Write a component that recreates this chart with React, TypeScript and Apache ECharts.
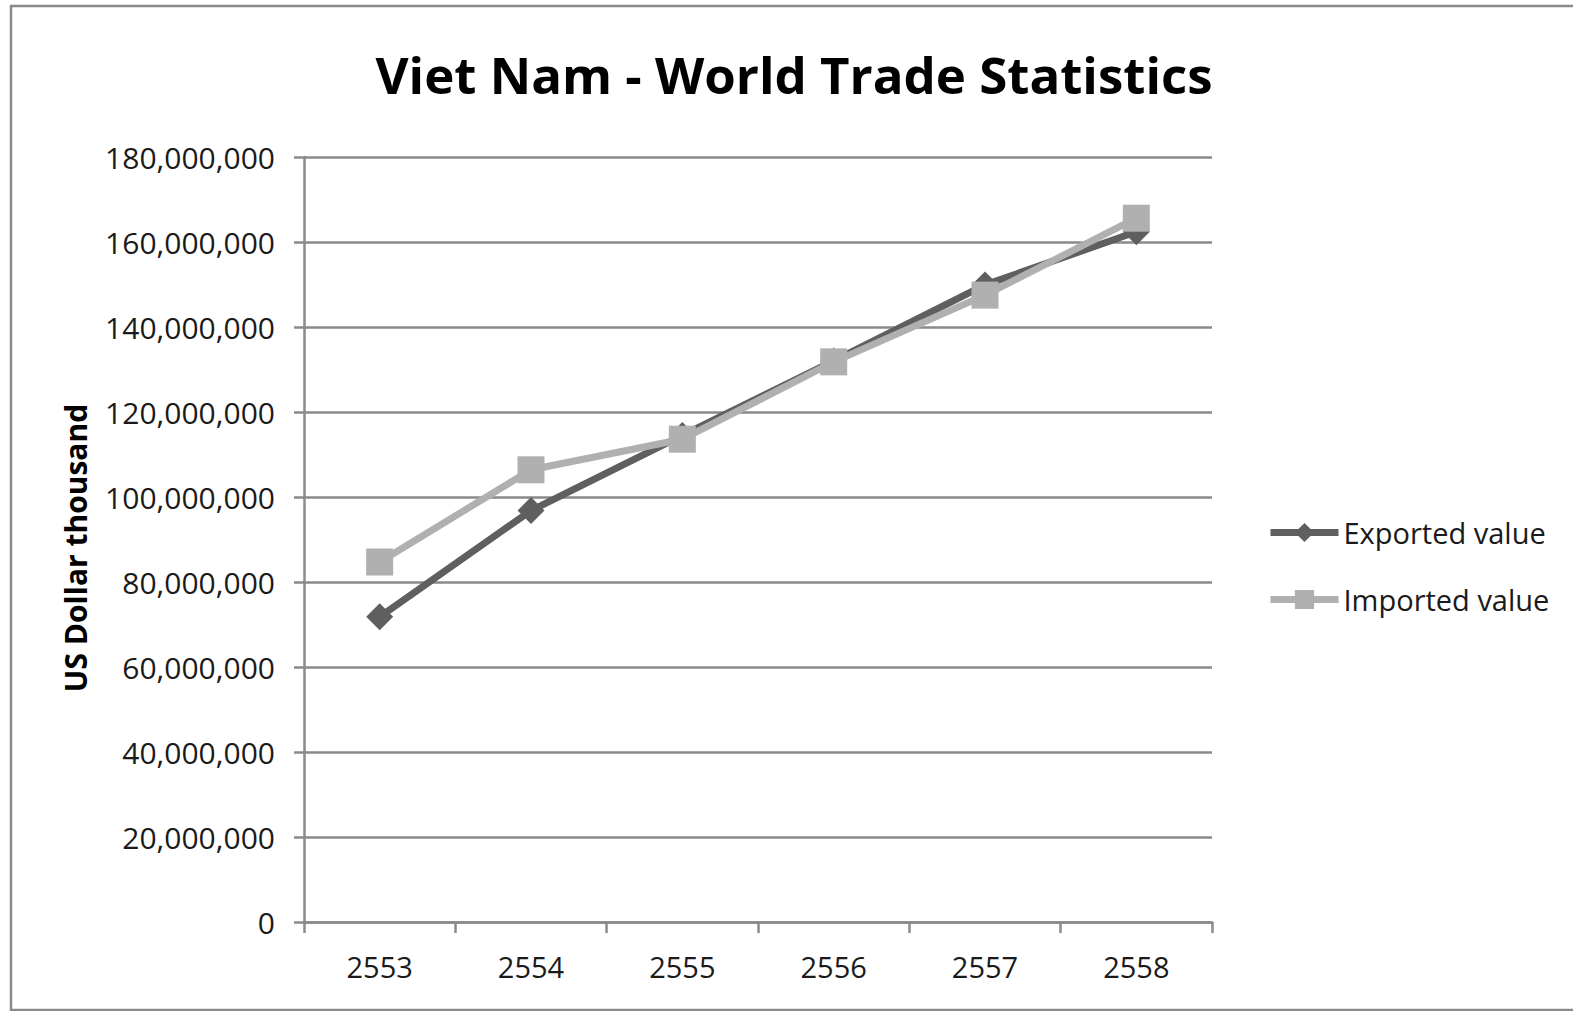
import React, { useEffect, useRef } from "react";
import * as echarts from "echarts";

const categories = ["2553", "2554", "2555", "2556", "2557", "2558"];
const exportedValues = [71800000, 96800000, 114500000, 132000000, 149900000, 162400000];
const importedValues = [84700000, 106400000, 113600000, 131800000, 147500000, 165600000];
const yTicks = { min: 0, max: 180000000, interval: 20000000 };

const FONT = "'Open Sans', 'Noto Sans', sans-serif";

export default function App() {
  const ref = useRef<HTMLDivElement>(null);
  useEffect(() => {
    if (!ref.current) return;
    const chart = echarts.init(ref.current, undefined, { renderer: "svg" });
    chart.setOption({
      animation: false,
      backgroundColor: "#ffffff",
      textStyle: { fontFamily: FONT },
      grid: { left: 304, right: 361, top: 157, bottom: 89, containLabel: false },
      graphic: [
        {
          type: "rect",
          shape: { x: 11, y: 6, width: 1570, height: 1004 },
          style: { fill: "none", stroke: "#8a8a8a", lineWidth: 2.5 },
          silent: true,
        },
        {
          type: "text",
          x: 794,
          y: 74,
          style: {
            text: "Viet Nam - World Trade Statistics",
            font: `bold 51px ${FONT}`,
            fill: "#000000",
            textAlign: "center",
            textVerticalAlign: "middle",
          },
        },
        {
          type: "text",
          x: 75,
          y: 548,
          rotation: Math.PI / 2,
          style: {
            text: "US Dollar thousand",
            font: `bold 30px ${FONT}`,
            fill: "#000000",
            textAlign: "center",
            textVerticalAlign: "middle",
          },
        },
      ],
      legend: {
        orient: "vertical",
        left: 1262,
        top: 513,
        itemWidth: 68,
        itemHeight: 24,
        itemGap: 38,
        lineStyle: { width: 7 },
        textStyle: { fontFamily: FONT, fontSize: 29, color: "#1a1a1a", lineHeight: 28 },
        data: ["Exported value", "Imported value"],
      },
      xAxis: {
        type: "category",
        data: categories,
        boundaryGap: true,
        axisLine: { show: true, lineStyle: { color: "#8a8a8a", width: 2.5 } },
        axisTick: { show: true, length: 11, lineStyle: { color: "#8a8a8a", width: 2.5 } },
        axisLabel: { fontFamily: FONT, fontSize: 29, color: "#1a1a1a", margin: 30 },
        splitLine: { show: false },
      },
      yAxis: {
        type: "value",
        min: yTicks.min,
        max: yTicks.max,
        interval: yTicks.interval,
        axisLine: { show: true, lineStyle: { color: "#8a8a8a", width: 2.5 } },
        axisTick: { show: true, length: 10, lineStyle: { color: "#8a8a8a", width: 2.5 } },
        axisLabel: {
          fontFamily: FONT,
          fontSize: 30,
          color: "#1a1a1a",
          margin: 29,
          formatter: (v: number) => v.toLocaleString("en-US"),
        },
        splitLine: { show: true, lineStyle: { color: "#8a8a8a", width: 2.5 } },
      },
      series: [
        {
          name: "Exported value",
          type: "line",
          data: exportedValues,
          symbol: "diamond",
          symbolSize: 27,
          showAllSymbol: true,
          lineStyle: { color: "#5f5f5f", width: 7 },
          itemStyle: { color: "#5f5f5f" },
        },
        {
          name: "Imported value",
          type: "line",
          data: importedValues,
          symbol: "rect",
          symbolSize: 27,
          showAllSymbol: true,
          lineStyle: { color: "#b0b0b0", width: 7 },
          itemStyle: { color: "#b0b0b0" },
        },
      ],
    });
    return () => chart.dispose();
  }, []);
  return (
    <div
      ref={ref}
      style={{ position: "fixed", left: 0, top: 0, width: 1573, height: 1011, background: "#fff" }}
    />
  );
}
